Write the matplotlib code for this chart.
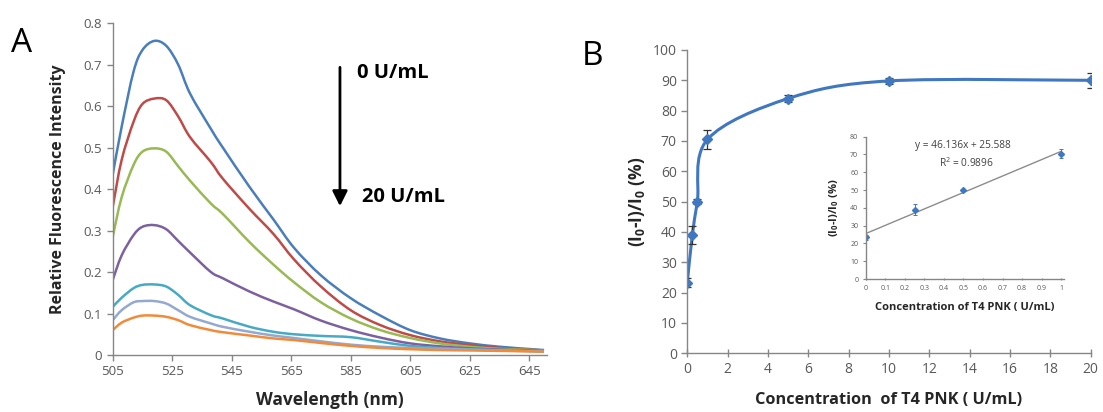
import numpy as np
import matplotlib
matplotlib.use('Agg')
import matplotlib.pyplot as plt
from matplotlib.path import Path
from matplotlib.patches import PathPatch

plt.rcParams['font.family'] = ['Open Sans', 'DejaVu Sans']
plt.rcParams['mathtext.fontset'] = 'custom'
plt.rcParams['mathtext.rm'] = 'Open Sans'
plt.rcParams['mathtext.bf'] = 'Open Sans:bold'

#panel A: emission spectra, 0 -> 20 U/mL
wavelength = [505, 508, 512, 515, 519, 523, 527, 531, 538, 542, 551, 559, 566,
              575, 585, 595, 605, 615, 625, 635, 645, 650]
spec_0 = [0.435, 0.55, 0.683, 0.735, 0.757, 0.745, 0.70, 0.63, 0.545, 0.50, 0.405, 0.327, 0.258,
          0.192, 0.137, 0.095, 0.06, 0.04, 0.028, 0.02, 0.0145, 0.012]
spec_1 = [0.357, 0.47, 0.562, 0.605, 0.618, 0.614, 0.575, 0.525, 0.465, 0.425, 0.352, 0.292, 0.23,
          0.165, 0.108, 0.072, 0.048, 0.033, 0.024, 0.017, 0.0125, 0.011]
spec_2 = [0.285, 0.38, 0.458, 0.49, 0.498, 0.49, 0.455, 0.42, 0.365, 0.34, 0.272, 0.218, 0.175,
          0.127, 0.088, 0.06, 0.041, 0.028, 0.02, 0.015, 0.0125, 0.011]
spec_3 = [0.181, 0.24, 0.289, 0.309, 0.313, 0.303, 0.275, 0.247, 0.20, 0.185, 0.153, 0.129, 0.11,
          0.083, 0.06, 0.042, 0.028, 0.021, 0.016, 0.013, 0.011, 0.01]
spec_4 = [0.116, 0.138, 0.161, 0.169, 0.17, 0.165, 0.145, 0.12, 0.096, 0.088, 0.068, 0.056, 0.05,
          0.046, 0.043, 0.032, 0.022, 0.017, 0.014, 0.012, 0.01, 0.009]
spec_5 = [0.084, 0.108, 0.127, 0.13, 0.13, 0.124, 0.108, 0.092, 0.076, 0.068, 0.056, 0.047, 0.041,
          0.033, 0.025, 0.02, 0.017, 0.015, 0.013, 0.011, 0.009, 0.008]
spec_6 = [0.06, 0.078, 0.09, 0.095, 0.095, 0.092, 0.084, 0.072, 0.06, 0.055, 0.047, 0.04, 0.036,
          0.029, 0.022, 0.017, 0.014, 0.012, 0.011, 0.01, 0.009, 0.008]
spec_colors = ['#4A7EBB', '#BE4B48', '#98B954', '#7D60A0', '#46AAC5', '#93A9CF', '#F38A3A']

#panel B: response vs concentration
conc = [0, 0.25, 0.5, 1, 5, 10, 20]
quench = [23.3, 39, 50, 70.5, 84, 89.8, 90]
quench_err = [1.5, 3, 0.8, 3, 1.2, 1, 2.5]

#inset: linear range
conc_lin = [0, 0.25, 0.5, 1]
quench_lin = [23.5, 39, 50, 70.5]
quench_lin_err = [1.5, 3, 0.5, 2.5]
fit_slope = 46.136
fit_icept = 25.588
fit_r2 = 0.9896

GRAY = '#868686'
TICK = '#595959'


#excel style smoothed line (catmull-rom -> bezier)
def smooth_path(xs, ys):
    pts = np.column_stack([xs, ys]).astype(float)
    verts = [pts[0]]
    codes = [Path.MOVETO]
    n = len(pts)
    for i in range(n - 1):
        p0 = pts[max(i - 1, 0)]
        p1 = pts[i]
        p2 = pts[i + 1]
        p3 = pts[min(i + 2, n - 1)]
        c1 = p1 + (p2 - p0) / 6.0
        c2 = p2 - (p3 - p1) / 6.0
        verts += [c1, c2, p2]
        codes += [Path.CURVE4] * 3
    return Path(verts, codes)


def style_axes(ax, tick_size):
    for s in ['top', 'right']:
        ax.spines[s].set_visible(False)
    for s in ['left', 'bottom']:
        ax.spines[s].set_color(GRAY)
        ax.spines[s].set_linewidth(1.0)
    ax.tick_params(colors=GRAY, labelcolor=TICK, labelsize=tick_size, length=4, width=1)


def place_labels(ax, xl, yl):
    ax.xaxis.set_label_coords(0.5, xl)
    ax.xaxis.label.set_va('center')
    ax.yaxis.set_label_coords(yl, 0.5)
    ax.yaxis.label.set_va('center')


fig = plt.figure(figsize=(11.03, 4.12), dpi=100)

#################
#panel A
#################
axA = fig.add_axes([0.1022, 0.1383, 0.3937, 0.8058])
specs = [spec_0, spec_1, spec_2, spec_3, spec_4, spec_5, spec_6]
for spec, col in zip(specs, spec_colors):
    axA.add_patch(PathPatch(smooth_path(wavelength, spec), fill=False, edgecolor=col, lw=1.8))
axA.set_xlim(505, 651)
axA.set_ylim(0, 0.8)
axA.set_xticks(np.arange(505, 650, 20))
axA.set_yticks(np.arange(0, 0.81, 0.1))
axA.set_yticklabels(['0'] + ['%.1f' % v for v in np.arange(0.1, 0.81, 0.1)])
style_axes(axA, 9.5)
axA.set_ylabel('Relative Fluorescence Intensity', fontsize=11.5, fontweight='bold', color='#262626')
axA.set_xlabel('Wavelength (nm)', fontsize=12.5, fontweight='bold', color='#262626')
place_labels(axA, -0.136, -0.125)

axA.annotate('', xy=(581.4, 0.352), xytext=(581.4, 0.70),
             arrowprops=dict(arrowstyle='-|>,head_length=0.9,head_width=0.45', color='black', lw=2))
axA.text(587.2, 0.68, '0 U/mL', fontsize=14.5, fontweight='bold', va='center')
axA.text(588.8, 0.381, '20 U/mL', fontsize=14.5, fontweight='bold', va='center')
fig.text(0.010, 0.895, 'A', fontsize=24, va='center')

#################
#panel B
#################
axB = fig.add_axes([0.6231, 0.1425, 0.3657, 0.7362])
axB.add_patch(PathPatch(smooth_path(conc, quench), fill=False, edgecolor='#3F77C0', lw=2.2))
axB.errorbar(conc, quench, yerr=quench_err, fmt='D', color='#3F77C0', ms=5,
             ecolor='#333333', elinewidth=0.9, capsize=3, capthick=0.9)
axB.set_xlim(0, 20)
axB.set_ylim(0, 100)
axB.set_xticks(np.arange(0, 21, 2))
axB.set_yticks(np.arange(0, 101, 10))
style_axes(axB, 10)
axB.tick_params(axis='x', direction='inout', length=6)
axB.set_ylabel(r'(I$_\mathbf{0}$-I)/I$_\mathbf{0}$ (%)', fontsize=12.5, fontweight='bold', color='#262626')
axB.set_xlabel('Concentration  of T4 PNK ( U/mL)', fontsize=11.7, fontweight='bold', color='#262626')
place_labels(axB, -0.154, -0.125)
fig.text(0.527, 0.862, 'B', fontsize=24, va='center')

#inset
axI = fig.add_axes([0.7851, 0.3228, 0.1795, 0.3454])
xfit = np.array([0, 1])
axI.plot(xfit, fit_slope * xfit + fit_icept, color='#8C8C8C', lw=1)
axI.errorbar(conc_lin, quench_lin, yerr=quench_lin_err, fmt='D', color='#3F77C0', ms=3,
             ecolor='#3F77C0', elinewidth=0.7, capsize=1.5, capthick=0.7)
axI.set_xlim(0, 1.015)
axI.set_ylim(0, 80)
axI.set_xticks(np.arange(0, 1.01, 0.1))
axI.set_xticklabels(['%g' % round(v, 1) for v in np.arange(0, 1.01, 0.1)])
axI.set_yticks(np.arange(0, 81, 10))
style_axes(axI, 5)
axI.tick_params(length=2, width=0.8)
axI.tick_params(axis='x', direction='inout')
axI.set_ylabel(r'(I$_\mathbf{0}$-I)/I$_\mathbf{0}$ (%)', fontsize=8, fontweight='bold', color='#262626')
axI.set_xlabel('Concentration of T4 PNK ( U/mL)', fontsize=8, fontweight='bold', color='#262626')
place_labels(axI, -0.197, -0.16)
axI.text(0.495, 74.8, 'y = %.3fx + %.3f' % (fit_slope, fit_icept), fontsize=7.3, color='#404040',
         ha='center', va='center')
axI.text(0.514, 65.2, 'R$^2$ = %.4f' % fit_r2, fontsize=7.3, color='#404040', ha='center', va='center')

fig.savefig('out.png', dpi=100)
